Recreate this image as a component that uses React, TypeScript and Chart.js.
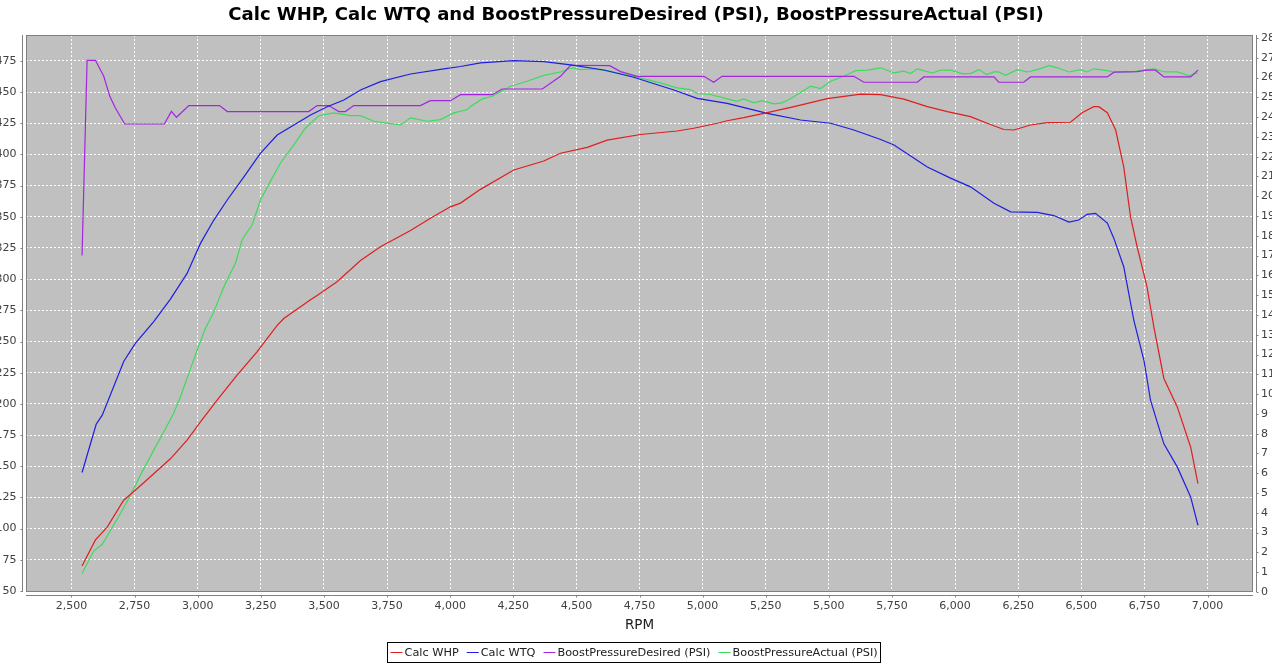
import React, { useEffect, useRef } from "react";
import { Chart, registerables } from "chart.js";

Chart.register(...registerables);

const TITLE = "Calc WHP, Calc WTQ and BoostPressureDesired (PSI), BoostPressureActual (PSI)";
const X_TITLE = "RPM";
const seriesNames = ["Calc WHP", "Calc WTQ", "BoostPressureDesired (PSI)", "BoostPressureActual (PSI)"];
const seriesColors = ["#e01e1e", "#1e1ee0", "#a424e0", "#3cdc5a"];

const whpRpm = [2542, 2595, 2641, 2707, 2753, 2826, 2892, 2958, 3011, 3077, 3156, 3235, 3315, 3341, 3447, 3473, 3552, 3645, 3724, 3843, 3922, 4001, 4041, 4120, 4252, 4371, 4437, 4543, 4622, 4754, 4899, 4965, 5058, 5097, 5163, 5256, 5362, 5494, 5626, 5705, 5797, 5890, 5969, 6061, 6127, 6193, 6233, 6299, 6365, 6457, 6503, 6549, 6569, 6603, 6636, 6668, 6695, 6721, 6760, 6787, 6827, 6880, 6933, 6962];
const whpValues = [70, 91, 101, 122.8, 130.8, 144, 156, 171, 185.6, 203, 223, 241.7, 263, 268.5, 283.5, 287, 298, 315, 326, 339, 348.8, 358, 361, 372, 387.5, 394.7, 401, 405.7, 411.5, 416, 418.8, 421, 425, 427, 429.5, 433.5, 438.3, 444.7, 448.4, 448, 444.3, 438.3, 434.3, 430.3, 425, 420, 419.6, 423.6, 425.5, 425.8, 433.5, 438.3, 438.3, 433.5, 419.6, 390, 350, 326, 294, 262, 220.4, 197.6, 165.5, 136];

const wtqRpm = [2542, 2598, 2622, 2707, 2753, 2826, 2892, 2958, 3011, 3064, 3117, 3183, 3249, 3315, 3381, 3447, 3513, 3579, 3645, 3724, 3843, 3975, 4041, 4120, 4252, 4371, 4477, 4609, 4727, 4886, 4978, 5097, 5256, 5388, 5507, 5599, 5705, 5758, 5890, 5982, 6061, 6154, 6220, 6326, 6391, 6451, 6490, 6523, 6556, 6603, 6629, 6668, 6708, 6748, 6774, 6827, 6880, 6933, 6962];
const wtqValues = [145, 183.7, 191, 234, 248.5, 266, 284, 304.6, 328.7, 347.4, 363.5, 382, 401, 415.6, 423.6, 431.6, 438.3, 443.7, 451.7, 458.4, 464.5, 468.6, 470.5, 473.4, 475.2, 474.4, 471.8, 467.7, 461.9, 451.7, 445, 441, 433, 427.6, 425, 419.6, 412, 407.6, 390, 381, 374, 360.8, 354, 353.6, 351, 345.8, 347.4, 352, 352.8, 345, 332.7, 310, 267, 235, 203, 168, 149.5, 125.4, 102.7];

const desiredRpm = [2542, 2562, 2595, 2628, 2652, 2674, 2711, 2868, 2896, 2916, 2965, 3087, 3117, 3440, 3473, 3519, 3559, 3585, 3618, 3882, 3922, 4001, 4041, 4167, 4206, 4365, 4437, 4477, 4632, 4675, 4741, 5005, 5044, 5077, 5599, 5639, 5850, 5876, 6154, 6173, 6272, 6299, 6603, 6629, 6721, 6760, 6794, 6827, 6933, 6962];
const desiredPsi = [17.0, 26.87, 26.87, 26.06, 25.05, 24.46, 23.65, 23.65, 24.29, 23.99, 24.58, 24.58, 24.28, 24.28, 24.58, 24.58, 24.28, 24.28, 24.58, 24.58, 24.83, 24.83, 25.13, 25.13, 25.42, 25.42, 26.06, 26.62, 26.6, 26.3, 26.06, 26.06, 25.76, 26.06, 26.06, 25.76, 25.76, 26.03, 26.03, 25.76, 25.76, 26.03, 26.03, 26.27, 26.3, 26.37, 26.37, 26.03, 26.03, 26.37];

const actualRpm = [2542, 2588, 2622, 2655, 2694, 2734, 2780, 2826, 2866, 2905, 2932, 2965, 2998, 3031, 3062, 3084, 3110, 3150, 3176, 3216, 3249, 3288, 3328, 3381, 3427, 3480, 3539, 3605, 3645, 3698, 3764, 3803, 3843, 3909, 3962, 4015, 4068, 4081, 4127, 4167, 4239, 4305, 4371, 4437, 4484, 4516, 4569, 4628, 4727, 4833, 4899, 4952, 4978, 5031, 5097, 5137, 5163, 5203, 5236, 5282, 5315, 5348, 5428, 5467, 5507, 5559, 5606, 5652, 5705, 5758, 5797, 5824, 5850, 5909, 5943, 5982, 6028, 6061, 6094, 6125, 6154, 6173, 6200, 6246, 6286, 6326, 6372, 6405, 6451, 6497, 6523, 6549, 6603, 6629, 6708, 6760, 6787, 6833, 6880, 6926, 6962];
const actualPsi = [0.93, 2.07, 2.41, 3.12, 3.97, 4.89, 6.07, 7.17, 8.1, 9.03, 9.87, 11.05, 12.23, 13.33, 14.1, 14.8, 15.6, 16.62, 17.8, 18.56, 19.82, 20.75, 21.68, 22.6, 23.45, 24.07, 24.21, 24.07, 24.07, 23.79, 23.67, 23.6, 23.96, 23.79, 23.87, 24.21, 24.38, 24.54, 24.92, 25.05, 25.56, 25.81, 26.11, 26.28, 26.49, 26.4, 26.44, 26.32, 26.06, 25.73, 25.48, 25.39, 25.19, 25.14, 24.92, 24.8, 24.92, 24.72, 24.83, 24.67, 24.72, 24.93, 25.56, 25.44, 25.81, 26.06, 26.35, 26.37, 26.49, 26.23, 26.32, 26.2, 26.44, 26.23, 26.37, 26.37, 26.2, 26.2, 26.4, 26.15, 26.28, 26.28, 26.11, 26.4, 26.28, 26.4, 26.6, 26.49, 26.28, 26.4, 26.28, 26.44, 26.35, 26.27, 26.3, 26.4, 26.44, 26.28, 26.28, 26.1, 26.23];

const xTickValues = [2500, 2750, 3000, 3250, 3500, 3750, 4000, 4250, 4500, 4750, 5000, 5250, 5500, 5750, 6000, 6250, 6500, 6750, 7000];
const leftTickValues = [50, 75, 100, 125, 150, 175, 200, 225, 250, 275, 300, 325, 350, 375, 400, 425, 450, 475];
const rightTickValues = [0, 1, 2, 3, 4, 5, 6, 7, 8, 9, 10, 11, 12, 13, 14, 15, 16, 17, 18, 19, 20, 21, 22, 23, 24, 25, 26, 27, 28];

const X_MIN = 2320, X_MAX = 7180;
const L_MIN = 49.2, L_MAX = 495.8;
const R_MIN = 0, R_MAX = 28.15;

const FONT = "'DejaVu Sans', sans-serif";
const TICK_COLOR = "#404040";
const AXIS_COLOR = "#808080";

const toPoints = (xs: number[], ys: number[]) => xs.map((x, i) => ({ x, y: ys[i] }));

const framePlugin = {
  id: "frameAndLegend",
  beforeDraw(chart: any) {
    const { ctx, chartArea: a } = chart;
    ctx.save();
    ctx.fillStyle = "#c0c0c0";
    ctx.fillRect(a.left, a.top, a.right - a.left, a.bottom - a.top);
    ctx.restore();
  },
  afterDraw(chart: any) {
    const { ctx, chartArea: a, scales } = chart;
    ctx.save();
    ctx.strokeStyle = AXIS_COLOR;
    ctx.lineWidth = 1;
    ctx.setLineDash([]);
    ctx.strokeRect(Math.round(a.left) + 0.5, Math.round(a.top) + 0.5, Math.round(a.right - a.left) - 1, Math.round(a.bottom - a.top) - 1);

    ctx.beginPath();
    const lx = Math.round(a.left) - 3.5;
    ctx.moveTo(lx, a.top);
    ctx.lineTo(lx, a.bottom);
    scales.yL.ticks.forEach((t: any) => {
      const y = Math.round(scales.yL.getPixelForValue(t.value)) + 0.5;
      ctx.moveTo(lx - 2, y);
      ctx.lineTo(lx, y);
    });
    const rx = Math.round(a.right) + 3.5;
    ctx.moveTo(rx, a.top);
    ctx.lineTo(rx, a.bottom);
    scales.yR.ticks.forEach((t: any) => {
      const y = Math.round(scales.yR.getPixelForValue(t.value)) + 0.5;
      ctx.moveTo(rx, y);
      ctx.lineTo(rx + 2, y);
    });
    const by = Math.round(a.bottom) + 3.5;
    ctx.moveTo(a.left, by);
    ctx.lineTo(a.right, by);
    scales.x.ticks.forEach((t: any) => {
      const x = Math.round(scales.x.getPixelForValue(t.value)) + 0.5;
      ctx.moveTo(x, by);
      ctx.lineTo(x, by + 2);
    });
    ctx.stroke();

    // legend
    ctx.font = `11.3px ${FONT}`;
    const lineLen = 12, gapText = 2, gapItem = 8, padL = 3, padR = 3;
    const widths = seriesNames.map((n) => ctx.measureText(n).width);
    let total = padL + padR;
    widths.forEach((w, i) => { total += lineLen + gapText + w + (i < widths.length - 1 ? gapItem : 0); });
    const boxLeft = Math.round(chart.width / 2 - 2 - total / 2) + 0.5;
    const boxTop = 642.5, boxH = 20;
    ctx.strokeStyle = "#000000";
    ctx.strokeRect(boxLeft, boxTop, Math.round(total), boxH);
    let x = boxLeft + padL;
    const cy = boxTop + boxH / 2;
    ctx.textBaseline = "middle";
    ctx.textAlign = "left";
    seriesNames.forEach((n, i) => {
      ctx.strokeStyle = seriesColors[i];
      ctx.beginPath();
      ctx.moveTo(x, cy);
      ctx.lineTo(x + lineLen, cy);
      ctx.stroke();
      x += lineLen + gapText;
      ctx.fillStyle = "#202020";
      ctx.fillText(n, x, cy + 0.5);
      x += widths[i] + gapItem;
    });
    ctx.restore();
  },
};

export default function App() {
  const canvasRef = useRef<HTMLCanvasElement | null>(null);

  useEffect(() => {
    if (!canvasRef.current) return;
    Chart.defaults.font.family = FONT;
    const gridBase = {
      color: "#ffffff",
      lineWidth: 1,
      drawTicks: false,
    };
    const chart = new Chart(canvasRef.current, {
      type: "line",
      data: {
        datasets: [
          { label: seriesNames[0], data: toPoints(whpRpm, whpValues), borderColor: seriesColors[0], yAxisID: "yL" },
          { label: seriesNames[1], data: toPoints(wtqRpm, wtqValues), borderColor: seriesColors[1], yAxisID: "yL" },
          { label: seriesNames[2], data: toPoints(desiredRpm, desiredPsi), borderColor: seriesColors[2], yAxisID: "yR" },
          { label: seriesNames[3], data: toPoints(actualRpm, actualPsi), borderColor: seriesColors[3], yAxisID: "yR" },
        ].map((d) => ({ ...d, borderWidth: 1.2, pointRadius: 0, pointHoverRadius: 0, tension: 0, fill: false })),
      },
      options: {
        animation: false,
        responsive: false,
        devicePixelRatio: 1,
        events: [],
        layout: { padding: { left: 0, right: 0, top: 0, bottom: 22 } },
        plugins: {
          legend: { display: false },
          tooltip: { enabled: false },
          title: {
            display: true,
            text: TITLE,
            color: "#000000",
            font: { family: FONT, size: 18.05, weight: "bold" },
            padding: { top: 4.5, bottom: 8.8 },
          },
        },
        scales: {
          x: {
            type: "linear",
            position: "bottom",
            min: X_MIN,
            max: X_MAX,
            grid: gridBase,
            border: { display: false, dash: [2, 2] },
            afterBuildTicks: (s: any) => { s.ticks = xTickValues.map((v) => ({ value: v })); },
            afterFit: (s: any) => { s.height = 51; },
            ticks: {
              autoSkip: false,
              maxRotation: 0,
              padding: 8,
              color: TICK_COLOR,
              font: { size: 11 },
              callback: (v: any) => Number(v).toLocaleString("en-US"),
            },
            title: {
              display: true,
              text: X_TITLE,
              color: "#202020",
              font: { size: 13.5 },
              padding: { top: 0, bottom: 9 },
            },
          },
          yL: {
            type: "linear",
            position: "left",
            min: L_MIN,
            max: L_MAX,
            grid: gridBase,
            border: { display: false, dash: [2, 2] },
            afterBuildTicks: (s: any) => { s.ticks = leftTickValues.map((v) => ({ value: v })); },
            afterFit: (s: any) => { s.width = 26; },
            ticks: { autoSkip: false, padding: 9.5, color: TICK_COLOR, font: { size: 11 } },
          },
          yR: {
            type: "linear",
            position: "right",
            min: R_MIN,
            max: R_MAX,
            grid: { ...gridBase, drawOnChartArea: false },
            border: { display: false },
            afterBuildTicks: (s: any) => { s.ticks = rightTickValues.map((v) => ({ value: v })); },
            afterFit: (s: any) => { s.width = 19; },
            ticks: { autoSkip: false, padding: 8, color: TICK_COLOR, font: { size: 11 } },
          },
        },
      } as any,
      plugins: [framePlugin],
    });
    return () => chart.destroy();
  }, []);

  return (
    <div style={{ position: "fixed", left: 0, top: 0, width: 1272, height: 665, background: "#ffffff" }}>
      <canvas ref={canvasRef} width={1272} height={665} style={{ width: 1272, height: 665, display: "block" }} />
    </div>
  );
}
